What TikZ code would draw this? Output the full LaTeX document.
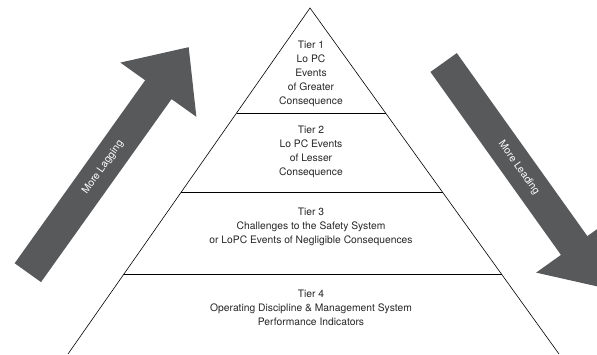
\documentclass[tikz,border=0pt]{standalone}
\usepackage{fontspec}
\setmainfont{TeX Gyre Heros}
\usetikzlibrary{shapes.arrows}
\definecolor{arrowgray}{HTML}{58595B}

\begin{document}
\begin{tikzpicture}[x=1pt,y=-1pt,
  tiertext/.style={align=center,text=black!85,font=\fontsize{10.3}{14}\selectfont},
  bigarrow/.style={single arrow,fill=arrowgray,draw=none,text=white,
    font=\fontsize{10.3}{10}\selectfont,text height=7.4pt,text depth=2.2pt,
    inner xsep=0pt,inner ysep=11.2pt,minimum height=277pt,minimum width=93pt,
    single arrow head extend=30.5pt,single arrow tip angle=83.6}]
\useasboundingbox (0,0) rectangle (597,354);
\clip (0,0) rectangle (597,354);

\draw[line width=0.6pt] (68,354) -- (310,8) -- (559,354); %pyramid sides
\draw[line width=0.8pt] (236.6,113) -- (385.6,113); %1-2
\draw[line width=0.8pt] (181.4,192) -- (442.5,192); %2-3
\draw[line width=0.8pt] (124.1,274) -- (501.5,274); %3-4

\node[tiertext] (tier1) at (311,73.5) {Tier 1\\Lo PC\\Events\\of Greater\\Consequence};
\node[tiertext] (tier2) at (311,151.5) {Tier 2\\Lo PC Events\\of Lesser\\Consequence};
\node[tiertext] (tier3) at (311,227) {Tier 3\\Challenges to the Safety System\\or LoPC Events of Negligible Consequences};
\node[tiertext] (tier4) at (311,307.7) {Tier 4\\Operating Discipline \& Management System\\Performance Indicators};

\node[bigarrow,rotate=54.5] (lagging) at (103,167.3) {More Lagging};
\node[bigarrow,rotate=-54.5] (leading) at (518.8,167.9) {More Leading};
\end{tikzpicture}
\end{document}
